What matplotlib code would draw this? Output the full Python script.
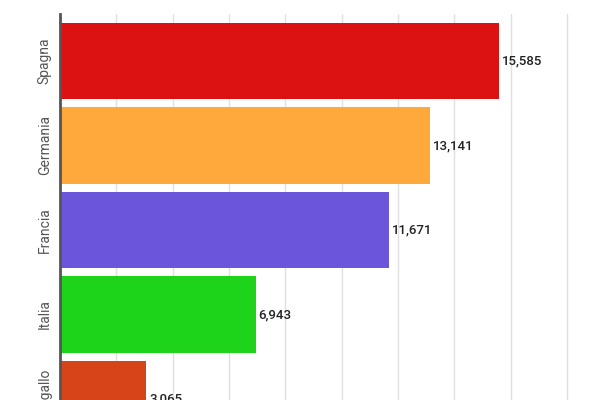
import matplotlib
matplotlib.use("Agg")
import matplotlib.pyplot as plt

countries = ["Spagna", "Germania", "Francia", "Italia", "Portogallo"]
values = [15585, 13141, 11671, 6943, 3065]
colors = ["#dc1111", "#ffa83c", "#6b55da", "#1dd41a", "#d64419"]

plt.rcParams['font.family'] = ['Roboto', 'DejaVu Sans']
fig = plt.figure(figsize=(6, 4), dpi=100)
ax = fig.add_axes([60/600, 0, 1 - 60/600, (400-14)/400])
ax.set_clip_on(False)
y = list(range(len(countries)))
ax.barh(y, values, height=0.91, color=colors)
ax.set_xlim(0, 19170)
ax.set_ylim(4.012, -0.556)
ax.set_xticks(range(0, 19170, 2000))
ax.xaxis.grid(True, color="#e0e0e0", lw=1)
ax.set_axisbelow(True)
ax.tick_params(axis='x', length=0, labelbottom=False)
ax.tick_params(axis='y', length=0, pad=6)
ax.set_yticks(y)
ax.set_yticklabels(countries, rotation=90, va='center', color="#555555", fontsize=10)
for s in ["top", "right", "bottom"]:
    ax.spines[s].set_visible(False)
ax.spines["left"].set_color("#555555")
ax.spines["left"].set_linewidth(2)
for yi, v in zip(y, values):
    ax.text(v + 100, yi, f"{v:,}", va='center', ha='left', fontsize=9.5, color="#222222", fontweight='medium')
fig.savefig("out.png", dpi=100)
